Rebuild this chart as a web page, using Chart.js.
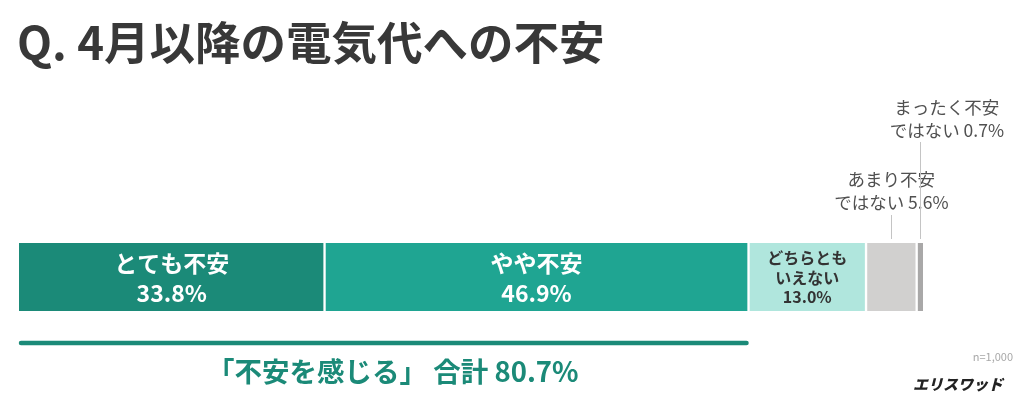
<!DOCTYPE html>
<html lang="ja">
<head>
<meta charset="utf-8">
<script src="https://cdn.jsdelivr.net/npm/chart.js@4/dist/chart.umd.min.js"></script>
<style>
    html, body { margin: 0; padding: 0; background: #fff; }
    #wrap { position: relative; width: 1024px; height: 406px; }
</style>
</head>
<body>
<div id="wrap"><canvas id="chart"></canvas></div>
<script>
'use strict';

// データ
const titleText = 'Q. 4月以降の電気代への不安';
const categories = ['全体'];
const seriesNames = ['とても不安', 'やや不安', 'どちらとも\nいえない', 'あまり不安\nではない', 'まったく不安\nではない'];
const seriesValues = [33.8, 46.9, 13.0, 5.6, 0.7];
const seriesColors = ['#1b8a78', '#1fa592', '#b0e6dd', '#d1d0cf', '#a9a8a8'];
const totalLabel = '「不安を感じる」 合計';
const totalValue = 80.7;
const sampleNote = 'n=1,000';

const FONT = '"Noto Sans CJK JP", "Noto Sans", sans-serif';


function drawLines(ctx, lines, x, y, step) {
    lines.forEach((line, i) => ctx.fillText(line, x, y + i * step));
}


const labelPlugin = {
    id: 'labelPlugin',
    afterDatasetsDraw(chart) {
        const ctx = chart.ctx;
        const xs = chart.scales.x;
        ctx.save();
        ctx.textAlign = 'center';
        ctx.textBaseline = 'middle';

        chart.data.datasets.forEach((ds, i) => {
            const bar = chart.getDatasetMeta(i).data[0];
            const p = bar.getProps(['x', 'y', 'base', 'height'], true);
            const cx = (p.x + p.base) / 2;
            const top = p.y - p.height / 2;
            const names = seriesNames[i].split('\n');
            const val = seriesValues[i].toFixed(1) + '%';

            if (i < 2) {
                ctx.fillStyle = '#ffffff';
                ctx.font = `bold 23px ${FONT}`;
                drawLines(ctx, [names.join(''), val], cx, p.y - 14, 30);
            } else if (i === 2) {
                ctx.fillStyle = '#333333';
                ctx.font = `bold 16px ${FONT}`;
                drawLines(ctx, [names[0], names[1], val], cx, p.y - 19, 19.5);
            } else {
                // 外側のラベル + 引き出し線
                const lineTop = i === 3 ? top - 28 : top - 101;
                const textX = i === 3 ? cx : cx + 27;
                const textY = i === 3 ? top - 64 : top - 136;
                ctx.strokeStyle = '#c4c4c4';
                ctx.lineWidth = 1;
                ctx.beginPath();
                ctx.moveTo(Math.round(cx) + 0.5, top - 4);
                ctx.lineTo(Math.round(cx) + 0.5, lineTop);
                ctx.stroke();
                ctx.fillStyle = '#505050';
                ctx.font = `17.5px ${FONT}`;
                drawLines(ctx, [names[0], names[1] + ' ' + val], textX, textY, 23);
            }
        });

        // 合計ライン
        const bottom = chart.getDatasetMeta(0).data[0];
        const by = bottom.y + bottom.height / 2;
        const x0 = xs.getPixelForValue(0);
        const x1 = xs.getPixelForValue(totalValue);
        ctx.strokeStyle = '#1b8a78';
        ctx.lineWidth = 4.5;
        ctx.lineCap = 'round';
        ctx.beginPath();
        ctx.moveTo(x0 + 2, by + 32);
        ctx.lineTo(x1 - 2, by + 32);
        ctx.stroke();

        ctx.fillStyle = '#1b8a78';
        ctx.font = `bold 27.5px ${FONT}`;
        ctx.fillText(totalLabel + ' ' + totalValue.toFixed(1) + '%', (x0 + x1) / 2 + 9, by + 61);

        // タイトル
        ctx.textAlign = 'left';
        ctx.fillStyle = '#383838';
        ctx.font = `bold 45.5px ${FONT}`;
        ctx.fillText(titleText, 17, 43);

        // 注記・ロゴ
        ctx.textAlign = 'right';
        ctx.fillStyle = '#a8a8a8';
        ctx.font = `11px ${FONT}`;
        ctx.fillText(sampleNote, 1013, 357);

        ctx.fillStyle = '#222222';
        ctx.font = `italic 900 15px ${FONT}`;
        ctx.fillText('エリスワッド', 1003, 384);
        ctx.restore();
    }
};


function renderChart() {
    const ctx = document.getElementById('chart').getContext('2d');
    const last = seriesValues.length - 1;

    new Chart(ctx, {
        type: 'bar',
        data: {
            labels: categories,
            datasets: seriesValues.map((v, i) => ({
                label: seriesNames[i],
                data: [v],
                backgroundColor: seriesColors[i],
                borderColor: '#ffffff',
                borderWidth: { left: i === 0 ? 0 : 1.5, right: i === last ? 0 : 1.5, top: 0, bottom: 0 },
                borderSkipped: false,
                barThickness: 68
            }))
        },
        options: {
            indexAxis: 'y',
            responsive: true,
            maintainAspectRatio: false,
            animation: false,
            layout: { padding: { left: 19, right: 101, top: 200, bottom: 52 } },
            plugins: {
                legend: { display: false },
                title: { display: false },
                tooltip: { enabled: false }
            },
            scales: {
                x: { stacked: true, min: 0, max: 100, display: false },
                y: { stacked: true, display: false }
            }
        },
        plugins: [labelPlugin]
    });
}


document.addEventListener('DOMContentLoaded', renderChart);
</script>
</body>
</html>
